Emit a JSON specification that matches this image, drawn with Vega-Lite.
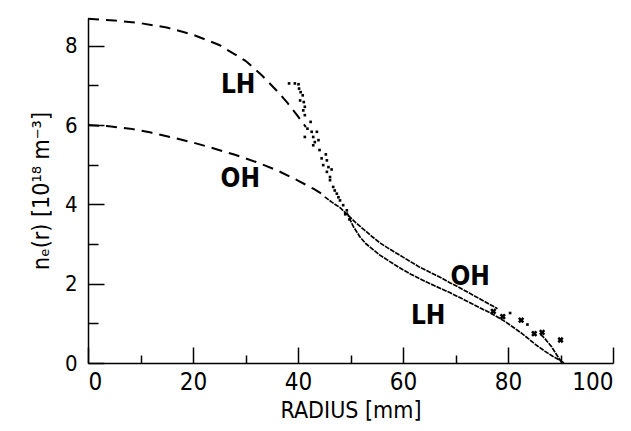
{
  "$schema": "https://vega.github.io/schema/vega-lite/v6.json",
  "width": 525,
  "height": 345,
  "autosize": {"type": "none"},
  "padding": {"left": 88, "top": 18, "right": 18, "bottom": 68},
  "background": "white",
  "config": {"view": {"stroke": null}, "font": "'Liberation Sans Narrow', 'DejaVu Sans Condensed', 'Liberation Sans', sans-serif"},
  "datasets": {
    "pts": [
      {"s": "LH fit", "r": 0, "n": 8.68}, {"s": "LH fit", "r": 5, "n": 8.64}, {"s": "LH fit", "r": 10, "n": 8.57}, {"s": "LH fit", "r": 15, "n": 8.46}, {"s": "LH fit", "r": 20, "n": 8.28}, {"s": "LH fit", "r": 25, "n": 8.02}, {"s": "LH fit", "r": 30, "n": 7.62}, {"s": "LH fit", "r": 33, "n": 7.27}, {"s": "LH fit", "r": 36, "n": 6.86}, {"s": "LH fit", "r": 38, "n": 6.56}, {"s": "LH fit", "r": 40, "n": 6.22}, {"s": "LH fit", "r": 41.5, "n": 5.95},
      {"s": "OH fit", "r": 0, "n": 6.0}, {"s": "OH fit", "r": 4, "n": 5.97}, {"s": "OH fit", "r": 8, "n": 5.91}, {"s": "OH fit", "r": 12, "n": 5.81}, {"s": "OH fit", "r": 16, "n": 5.69}, {"s": "OH fit", "r": 20, "n": 5.56}, {"s": "OH fit", "r": 24, "n": 5.41}, {"s": "OH fit", "r": 28, "n": 5.25}, {"s": "OH fit", "r": 32, "n": 5.07}, {"s": "OH fit", "r": 36, "n": 4.86}, {"s": "OH fit", "r": 40, "n": 4.6}, {"s": "OH fit", "r": 43, "n": 4.39}, {"s": "OH fit", "r": 44.5, "n": 4.27},
      {"s": "LH scatter", "r": 38.3, "n": 7.05}, {"s": "LH scatter", "r": 39.4, "n": 7.05}, {"s": "LH scatter", "r": 40.1, "n": 7.03}, {"s": "LH scatter", "r": 40.2, "n": 6.92}, {"s": "LH scatter", "r": 40.5, "n": 6.83}, {"s": "LH scatter", "r": 40.9, "n": 6.75}, {"s": "LH scatter", "r": 40.4, "n": 6.62}, {"s": "LH scatter", "r": 41.1, "n": 6.58}, {"s": "LH scatter", "r": 41.3, "n": 6.46}, {"s": "LH scatter", "r": 41.0, "n": 6.37}, {"s": "LH scatter", "r": 41.3, "n": 6.25}, {"s": "LH scatter", "r": 42.4, "n": 6.08}, {"s": "LH scatter", "r": 41.8, "n": 5.91}, {"s": "LH scatter", "r": 42.6, "n": 5.83}, {"s": "LH scatter", "r": 43.6, "n": 5.83}, {"s": "LH scatter", "r": 41.3, "n": 5.7}, {"s": "LH scatter", "r": 42.9, "n": 5.7}, {"s": "LH scatter", "r": 43.2, "n": 5.57}, {"s": "LH scatter", "r": 43.9, "n": 5.62}, {"s": "LH scatter", "r": 42.9, "n": 5.49}, {"s": "LH scatter", "r": 44.1, "n": 5.37}, {"s": "LH scatter", "r": 45.3, "n": 5.26}, {"s": "LH scatter", "r": 44.5, "n": 5.16}, {"s": "LH scatter", "r": 45.5, "n": 5.11}, {"s": "LH scatter", "r": 44.8, "n": 4.99}, {"s": "LH scatter", "r": 45.8, "n": 4.94}, {"s": "LH scatter", "r": 46.4, "n": 4.88}, {"s": "LH scatter", "r": 45.5, "n": 4.82}, {"s": "LH scatter", "r": 46.1, "n": 4.69}, {"s": "LH scatter", "r": 46.1, "n": 4.61}, {"s": "LH scatter", "r": 46.7, "n": 4.44}, {"s": "LH scatter", "r": 47.4, "n": 4.27}, {"s": "LH scatter", "r": 47.0, "n": 4.35}, {"s": "LH scatter", "r": 48.0, "n": 4.1}, {"s": "LH scatter", "r": 47.7, "n": 4.18}, {"s": "LH scatter", "r": 48.6, "n": 3.98}, {"s": "LH scatter", "r": 49.3, "n": 3.85}, {"s": "LH scatter", "r": 49.0, "n": 3.75}, {"s": "LH scatter", "r": 49.8, "n": 3.62}, {"s": "LH scatter", "r": 80.4, "n": 1.26}, {"s": "LH scatter", "r": 83.7, "n": 0.97},
      {"s": "LH data", "r": 49.3, "n": 3.8}, {"s": "LH data", "r": 50.5, "n": 3.45}, {"s": "LH data", "r": 51.8, "n": 3.18}, {"s": "LH data", "r": 53, "n": 3.0}, {"s": "LH data", "r": 54.3, "n": 2.86}, {"s": "LH data", "r": 55.6, "n": 2.72}, {"s": "LH data", "r": 57, "n": 2.6}, {"s": "LH data", "r": 58.5, "n": 2.47}, {"s": "LH data", "r": 60, "n": 2.35}, {"s": "LH data", "r": 61.5, "n": 2.24}, {"s": "LH data", "r": 63, "n": 2.14}, {"s": "LH data", "r": 64.5, "n": 2.04}, {"s": "LH data", "r": 66, "n": 1.95}, {"s": "LH data", "r": 67.5, "n": 1.86}, {"s": "LH data", "r": 69, "n": 1.77}, {"s": "LH data", "r": 70.5, "n": 1.67}, {"s": "LH data", "r": 72, "n": 1.57}, {"s": "LH data", "r": 73.5, "n": 1.47}, {"s": "LH data", "r": 75, "n": 1.37}, {"s": "LH data", "r": 76.5, "n": 1.27}, {"s": "LH data", "r": 78, "n": 1.16}, {"s": "LH data", "r": 79.5, "n": 1.04}, {"s": "LH data", "r": 81, "n": 0.9}, {"s": "LH data", "r": 82.5, "n": 0.76}, {"s": "LH data", "r": 84, "n": 0.6}, {"s": "LH data", "r": 85.5, "n": 0.44}, {"s": "LH data", "r": 87, "n": 0.3}, {"s": "LH data", "r": 88.5, "n": 0.17}, {"s": "LH data", "r": 90, "n": 0.06}, {"s": "LH data", "r": 90.7, "n": 0},
      {"s": "OH data", "r": 45.1, "n": 4.19}, {"s": "OH data", "r": 46.5, "n": 4.05}, {"s": "OH data", "r": 48, "n": 3.92}, {"s": "OH data", "r": 49.5, "n": 3.73}, {"s": "OH data", "r": 51, "n": 3.54}, {"s": "OH data", "r": 52.5, "n": 3.37}, {"s": "OH data", "r": 54, "n": 3.2}, {"s": "OH data", "r": 55.5, "n": 3.04}, {"s": "OH data", "r": 57, "n": 2.91}, {"s": "OH data", "r": 58.5, "n": 2.79}, {"s": "OH data", "r": 60, "n": 2.67}, {"s": "OH data", "r": 61.5, "n": 2.55}, {"s": "OH data", "r": 63, "n": 2.43}, {"s": "OH data", "r": 64.5, "n": 2.33}, {"s": "OH data", "r": 66, "n": 2.23}, {"s": "OH data", "r": 67.5, "n": 2.13}, {"s": "OH data", "r": 69, "n": 2.02}, {"s": "OH data", "r": 70.5, "n": 1.92}, {"s": "OH data", "r": 72, "n": 1.81}, {"s": "OH data", "r": 73.5, "n": 1.7}, {"s": "OH data", "r": 75, "n": 1.59}, {"s": "OH data", "r": 76.5, "n": 1.48}, {"s": "OH data", "r": 78, "n": 1.37},
      {"s": "OH tail", "r": 86.2, "n": 0.72}, {"s": "OH tail", "r": 87, "n": 0.62}, {"s": "OH tail", "r": 88.3, "n": 0.41}, {"s": "OH tail", "r": 89.3, "n": 0.2}, {"s": "OH tail", "r": 90.2, "n": 0.02},
      {"s": "OH x", "r": 77.2, "n": 1.3}, {"s": "OH x", "r": 79, "n": 1.17}, {"s": "OH x", "r": 82.5, "n": 1.08}, {"s": "OH x", "r": 85, "n": 0.74}, {"s": "OH x", "r": 86.5, "n": 0.77}, {"s": "OH x", "r": 90, "n": 0.58}
    ],
    "labels": [
      {"lab": "LH", "r": 28.6, "n": 7.0},
      {"lab": "OH", "r": 29.0, "n": 4.65},
      {"lab": "OH", "r": 72.8, "n": 2.17},
      {"lab": "LH", "r": 64.8, "n": 1.18}
    ]
  },
  "data": {"name": "pts"},
  "encoding": {
    "x": {
      "field": "r", "type": "quantitative",
      "scale": {"domain": [0, 100], "nice": false, "zero": false},
      "axis": {
        "title": "RADIUS  [mm]",
        "values": [0, 10, 20, 30, 40, 50, 60, 70, 80, 90, 100],
        "labelExpr": "datum.value % 20 === 0 ? datum.label : ''",
        "tickSize": {"condition": {"test": "datum.value % 20 === 0", "value": -16}, "value": -8},
        "tickColor": "black", "tickWidth": 1.5,
        "domainColor": "black", "domainWidth": 1.5,
        "grid": false,
        "labelFontSize": 24, "labelColor": "black",
        "labelPadding": 23,
        "titleFontSize": 23, "titleFontWeight": "normal", "titleColor": "black",
        "titlePadding": 5
      }
    },
    "y": {
      "field": "n", "type": "quantitative",
      "scale": {"domain": [0, 8.7], "nice": false, "zero": false},
      "axis": {
        "title": "nₑ(r) [10¹⁸ m⁻³]",
        "values": [0, 1, 2, 3, 4, 5, 6, 7, 8],
        "labelExpr": "datum.value % 2 === 0 ? datum.label : ''",
        "tickSize": {"condition": {"test": "datum.value % 2 === 0", "value": -16}, "value": -10},
        "tickColor": "black", "tickWidth": 1.5,
        "domainColor": "black", "domainWidth": 1.5,
        "grid": false,
        "labelFontSize": 22, "labelColor": "black",
        "labelPadding": 27,
        "titleFontSize": 23, "titleFontWeight": "normal", "titleColor": "black",
        "titlePadding": 11
      }
    }
  },
  "layer": [
    {
      "transform": [{"filter": "datum.s === 'LH fit' || datum.s === 'OH fit'"}],
      "mark": {"type": "line", "color": "black", "strokeWidth": 2, "strokeDash": [11, 7]},
      "encoding": {"detail": {"field": "s"}}
    },
    {
      "transform": [{"filter": "datum.s === 'LH data' || datum.s === 'OH data' || datum.s === 'OH tail'"}],
      "mark": {"type": "line", "color": "black", "strokeWidth": 1.7, "strokeDash": [5, 1]},
      "encoding": {"detail": {"field": "s"}}
    },
    {
      "transform": [{"filter": "datum.s === 'LH scatter'"}],
      "mark": {"type": "square", "color": "black", "size": 7, "opacity": 1}
    },
    {
      "transform": [{"filter": "datum.s === 'OH x'"}],
      "mark": {"type": "point", "shape": "cross", "angle": 45, "size": 40, "filled": true, "color": "black", "opacity": 1}
    },
    {
      "data": {"name": "labels"},
      "mark": {"type": "text", "fontWeight": "bold", "fontSize": 26, "color": "black", "align": "center", "baseline": "middle"},
      "encoding": {"text": {"field": "lab"}}
    }
  ]
}
